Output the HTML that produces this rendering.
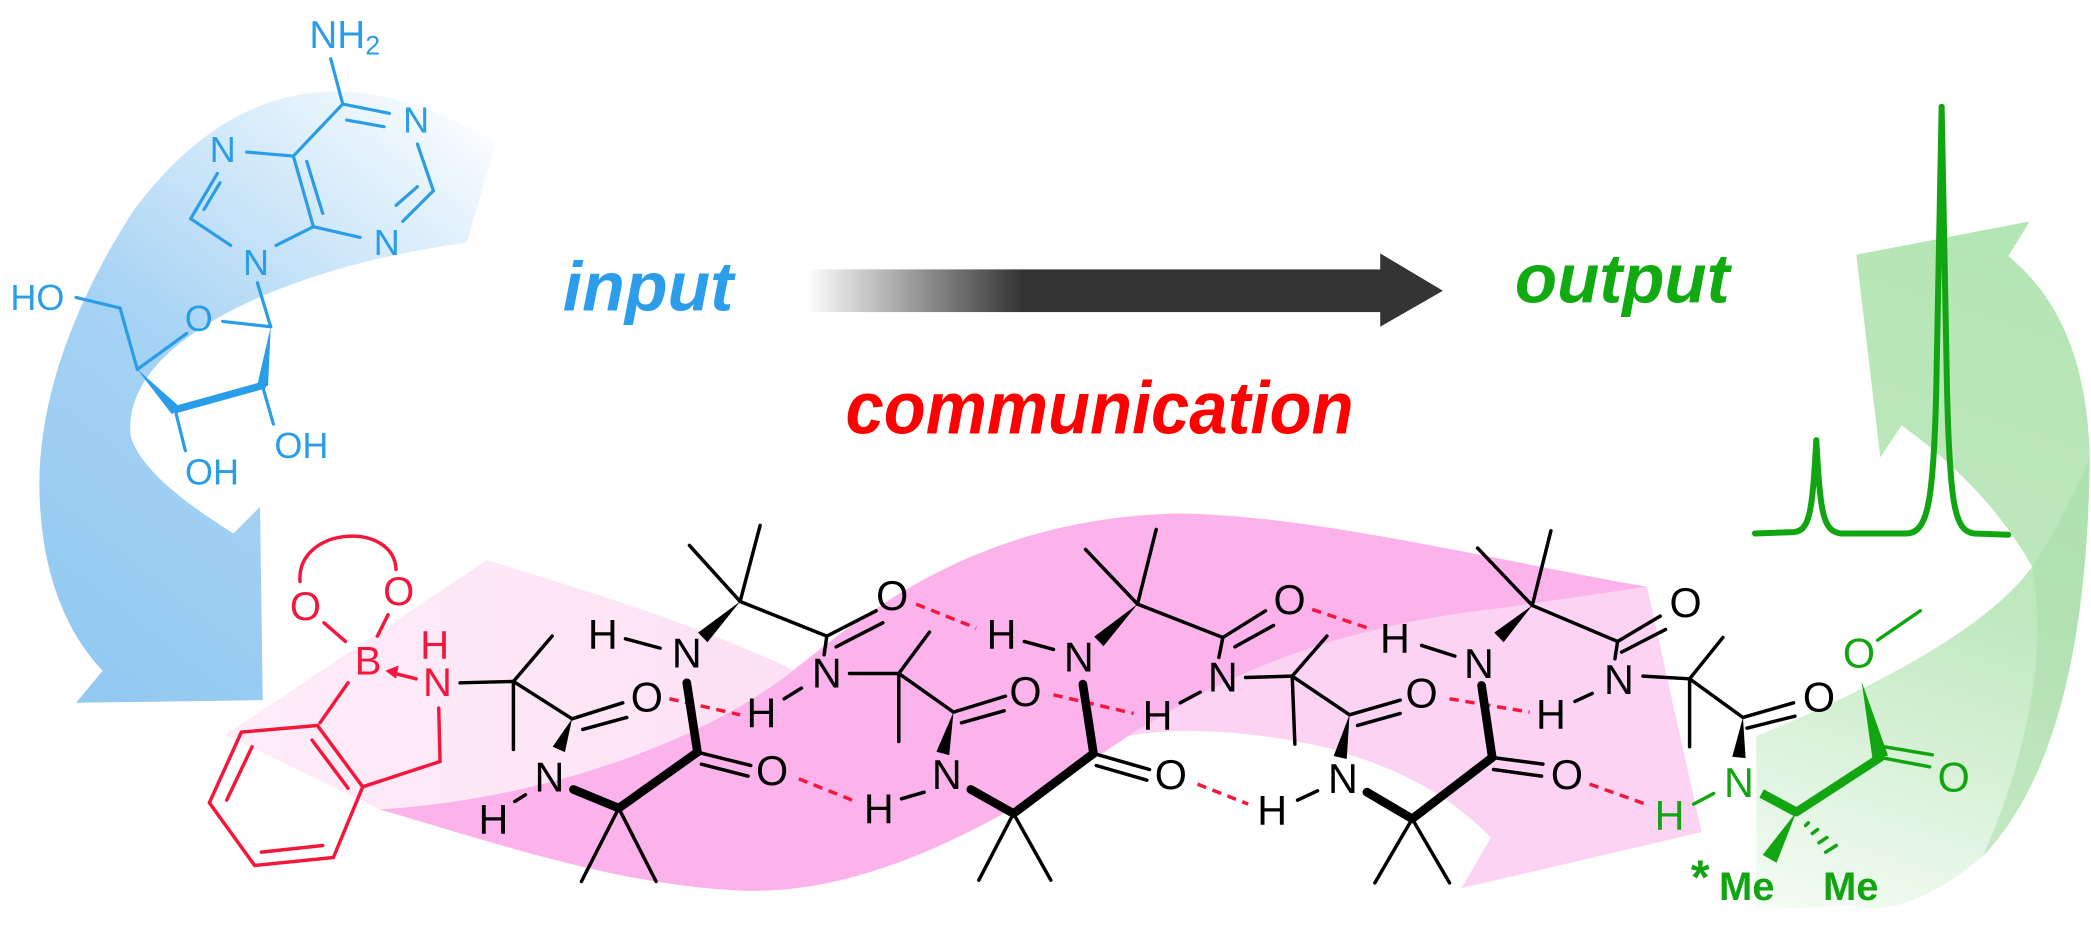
<!DOCTYPE html>
<html><head><meta charset="utf-8"><style>
html,body{margin:0;padding:0;background:#fff;}
svg{display:block;}
text{font-family:"Liberation Sans",sans-serif;}
.b{stroke:#000;stroke-width:2.6;fill:none;stroke-linecap:round;}
.bb{stroke:#000;stroke-width:6.5;fill:none;stroke-linecap:round;}
.bl{stroke:#2a9de8;stroke-width:2.4;fill:none;stroke-linecap:round;}
.rd{stroke:#f5163c;stroke-width:2.6;fill:none;stroke-linecap:round;}
.gr{stroke:#12a512;stroke-width:2.6;fill:none;stroke-linecap:round;}
.hb{stroke:#f5163c;stroke-width:2.6;fill:none;stroke-dasharray:7 5;}
.at{font-size:31px;text-anchor:middle;dominant-baseline:central;fill:#000;}
.ab{font-size:27px;text-anchor:middle;dominant-baseline:central;fill:#2a9de8;}
.ar{font-size:30px;text-anchor:middle;dominant-baseline:central;fill:#f5163c;}
.ag{font-size:31px;text-anchor:middle;dominant-baseline:central;fill:#12a512;}
</style></head><body>
<svg width="2091" height="943" viewBox="0 0 1568 707.1" xmlns="http://www.w3.org/2000/svg">
<defs>
<linearGradient id="blueg" x1="60" y1="500" x2="380" y2="90" gradientUnits="userSpaceOnUse">
<stop offset="0" stop-color="#93c9f1"/><stop offset="0.45" stop-color="#a7d3f4"/><stop offset="0.75" stop-color="#d6ebfa"/><stop offset="1" stop-color="#ffffff"/>
</linearGradient>
<linearGradient id="greeng" x1="1510" y1="180" x2="1340" y2="690" gradientUnits="userSpaceOnUse">
<stop offset="0" stop-color="#b4e5b4"/><stop offset="0.5" stop-color="#bfe8bf"/><stop offset="1" stop-color="#f6fcf6"/>
</linearGradient>
<linearGradient id="barg" x1="605" y1="0" x2="1040" y2="0" gradientUnits="userSpaceOnUse">
<stop offset="0" stop-color="#ffffff"/><stop offset="0.37" stop-color="#343434"/><stop offset="1" stop-color="#343434"/>
</linearGradient>
<linearGradient id="pinkl" x1="169" y1="0" x2="600" y2="0" gradientUnits="userSpaceOnUse">
<stop offset="0" stop-color="#fdeef9"/><stop offset="1" stop-color="#fde0f5"/>
</linearGradient>
</defs>

<path d="M100,158 C60,220 25,300 30,378 C33,440 55,480 77,503 L57,527 L197,525 L195,380 L175,400 C140,378 105,352 98,327 C95,300 110,265 177,231 C230,205 290,190 350,182 L372,107 Q210,10 100,158 Z" fill="url(#blueg)"/>

<path d="M1392,191 L1522,166 L1506,192 Q1565,240 1567,343 Q1565,560 1487,642 Q1430,690 1387,679 L1317,682 L1317,552 Q1480,485 1524,425 Q1490,365 1426,319 L1410,343 Z" fill="url(#greeng)"/>
<path d="M1567,343 Q1565,560 1487,642 Q1540,520 1524,425 Q1550,385 1567,343 Z" fill="#a6dca6" opacity="0.5"/>

<path d="M169,551 L365,420 C430,440 530,470 600,505 C520,560 420,600 285,607 Z" fill="url(#pinkl)"/>
<path d="M285,607 C400,600 520,560 592,505 C660,450 740,390 880,385 C980,385 1120,420 1235,440 L1125,458 C1030,472 920,505 846,552 C760,610 660,670 560,668 C470,665 380,635 285,607 Z" fill="#fcb3ec"/>
<path d="M846,552 C920,505 1000,470 1125,456 L1235,440 L1276,624 L1096,666 L1118,628 C1090,600 1060,580 1000,562 C940,547 880,545 846,552 Z" fill="#fdd3f3"/>

<rect x="605" y="202" width="432" height="32" fill="url(#barg)"/>
<polygon points="1035,190 1082,218 1035,245" fill="#343434"/>

<text x="422" y="233" font-size="52" font-weight="bold" font-style="italic" fill="#2c9deb" textLength="128" lengthAdjust="spacingAndGlyphs">input</text>
<text x="1136" y="227" font-size="52" font-weight="bold" font-style="italic" fill="#11aa11" textLength="161" lengthAdjust="spacingAndGlyphs">output</text>
<text x="634" y="325" font-size="56" font-weight="bold" font-style="italic" fill="#ff0000" textLength="381" lengthAdjust="spacingAndGlyphs">communication</text>

<g>
<line class="bl" x1="248" y1="44" x2="257" y2="78"/>
<line class="bl" x1="257" y1="78" x2="292" y2="85"/>
<line class="bl" x1="260" y1="90" x2="288" y2="95"/>
<line class="bl" x1="313" y1="108" x2="325" y2="143"/>
<line class="bl" x1="325" y1="143" x2="302" y2="166"/>
<line class="bl" x1="313" y1="140" x2="297" y2="154"/>
<line class="bl" x1="270" y1="178" x2="235" y2="170"/>
<line class="bl" x1="235" y1="170" x2="220" y2="117"/>
<line class="bl" x1="242" y1="160" x2="230" y2="121"/>
<line class="bl" x1="220" y1="117" x2="257" y2="78"/>
<line class="bl" x1="220" y1="117" x2="185" y2="114"/>
<line class="bl" x1="163" y1="130" x2="143" y2="164"/>
<line class="bl" x1="165" y1="137" x2="153" y2="157"/>
<line class="bl" x1="143" y1="164" x2="173" y2="184"/>
<line class="bl" x1="207" y1="184" x2="235" y2="170"/>
<line class="bl" x1="193" y1="212" x2="203" y2="245"/>
<line class="bl" x1="203" y1="245" x2="167" y2="241"/>
<line class="bl" x1="140" y1="250" x2="103" y2="277"/>
<line class="bl" x1="103" y1="277" x2="90" y2="231"/>
<line class="bl" x1="90" y1="231" x2="57" y2="223"/>
<polygon points="103,277 129,310.7 135,305.3" fill="#2a9de8"/>
<line x1="132" y1="307" x2="197" y2="289" stroke="#2a9de8" stroke-width="5.5" stroke-linecap="round"/>
<polygon points="203,245 193,288.5 201,289.5" fill="#2a9de8"/>
<line class="bl" x1="132" y1="310" x2="139" y2="338"/>
<line class="bl" x1="197" y1="290" x2="205" y2="318"/>
<text x="232" y="36" font-size="29" fill="#2a9de8">NH<tspan font-size="20" dy="5">2</tspan></text>
<text class="ab" x="312" y="90">N</text>
<text class="ab" x="290" y="182">N</text>
<text class="ab" x="167" y="112">N</text>
<text class="ab" x="192" y="197">N</text>
<text class="ab" x="149" y="239">O</text>
<text class="ab" x="28" y="223">HO</text>
<text class="ab" x="159" y="354">OH</text>
<text class="ab" x="226" y="334">OH</text>
</g>

<g>
<path class="rd" d="M225,436 C222,395 295,390 297,427"/>
<line class="rd" x1="243" y1="467" x2="259" y2="481"/>
<line class="rd" x1="291" y1="461" x2="283" y2="477"/>
<line class="rd" x1="261" y1="512" x2="240" y2="542"/>
<polygon class="rd" points="238,544 181,549 157,602 191,649 250,643 272,590"/>
<line class="rd" x1="189" y1="560" x2="170" y2="600"/>
<line class="rd" x1="196" y1="639" x2="242" y2="634"/>
<line class="rd" x1="234" y1="555" x2="261" y2="591"/>
<line class="rd" x1="272" y1="590" x2="330" y2="571"/>
<line class="rd" x1="330" y1="571" x2="329" y2="531"/>
<line class="rd" x1="312" y1="509" x2="296" y2="505"/>
<polygon points="289,503 299,499 297,509" fill="#f5163c"/>
<text class="ar" x="229" y="455">O</text>
<text class="ar" x="299" y="444">O</text>
<text class="ar" x="276" y="496" font-size="32">B</text>
<text class="ar" x="326" y="484">H</text>
<text class="ar" x="328" y="512">N</text>
</g>

<line class="hb" x1="502" y1="524" x2="555" y2="536"/>
<line class="hb" x1="599" y1="584" x2="639" y2="600"/>
<line class="hb" x1="687" y1="453" x2="732" y2="471"/>
<line class="hb" x1="790" y1="521" x2="850" y2="535"/>
<line class="hb" x1="898" y1="588" x2="936" y2="603"/>
<line class="hb" x1="984" y1="457" x2="1029" y2="472"/>
<line class="hb" x1="1087" y1="524" x2="1147" y2="534"/>
<line class="hb" x1="1192" y1="588" x2="1234" y2="603"/>

<g>
<line class="b" x1="345" y1="512" x2="385" y2="511"/>
<line class="b" x1="385" y1="511" x2="414" y2="477"/>
<line class="b" x1="385" y1="511" x2="385" y2="562"/>
<line class="b" x1="385" y1="511" x2="429" y2="539"/>
<line class="b" x1="429" y1="539" x2="467" y2="527"/>
<line class="b" x1="437" y1="547" x2="470" y2="538"/>
<polygon points="429,539 414.4,560 423.6,564"/>
<line class="b" x1="386" y1="601" x2="394" y2="596"/>
<line class="bb" x1="430" y1="592" x2="464" y2="606"/>
<line class="bb" x1="464" y1="606" x2="523" y2="564"/>
<line class="bb" x1="523" y1="564" x2="515" y2="512"/>
<line class="b" x1="464" y1="606" x2="436" y2="661"/>
<line class="b" x1="464" y1="606" x2="492" y2="661"/>
<line class="b" x1="523" y1="564" x2="563" y2="574"/>
<line class="b" x1="526" y1="573" x2="561" y2="582"/>
<text class="at" x="485" y="523">O</text>
<text class="at" x="412" y="583">N</text>
<text class="at" x="370" y="615">H</text>
<text class="at" x="579" y="578">O</text>
<line class="b" x1="469" y1="479" x2="495" y2="486"/>
<polygon points="555,451 523.5,474.4 530.5,481.6"/>
<line class="b" x1="555" y1="451" x2="517" y2="409"/>
<line class="b" x1="555" y1="451" x2="570" y2="394"/>
<line class="b" x1="555" y1="451" x2="620" y2="477"/>
<line class="b" x1="620" y1="477" x2="657" y2="458"/>
<line class="b" x1="627" y1="485" x2="662" y2="467"/>
<line class="b" x1="620" y1="477" x2="618" y2="491"/>
<line class="b" x1="601" y1="516" x2="588" y2="524"/>
<text class="at" x="452" y="476">H</text>
<text class="at" x="515" y="490">N</text>
<text class="at" x="669" y="447">O</text>
<text class="at" x="620" y="505">N</text>
<text class="at" x="571" y="535">H</text>
<line class="b" x1="637" y1="505" x2="674" y2="505"/>
<line class="b" x1="674" y1="505" x2="697" y2="474"/>
<line class="b" x1="674" y1="505" x2="674" y2="556"/>
<line class="b" x1="674" y1="505" x2="715" y2="534"/>
<line class="b" x1="715" y1="534" x2="754" y2="522"/>
<line class="b" x1="721" y1="542" x2="753" y2="533"/>
<polygon points="715,534 702.2,563.75 711.8,566.25"/>
<line class="b" x1="693" y1="594" x2="676" y2="599"/>
<text class="at" x="769" y="519">O</text>
<text class="at" x="710" y="581">N</text>
<text class="at" x="659" y="607">H</text>
<line class="bb" x1="728" y1="592" x2="760" y2="610"/>
<line class="bb" x1="760" y1="610" x2="820" y2="565"/>
<line class="bb" x1="820" y1="565" x2="812" y2="513"/>
<line class="b" x1="760" y1="610" x2="734" y2="660"/>
<line class="b" x1="760" y1="610" x2="788" y2="660"/>
<line class="b" x1="820" y1="565" x2="862" y2="577"/>
<line class="b" x1="822" y1="574" x2="860" y2="585"/>
<line class="b" x1="768" y1="481" x2="790" y2="487"/>
<text class="at" x="878" y="581">O</text>
<text class="at" x="809" y="493">N</text>
<text class="at" x="751" y="476">H</text>
<polygon points="853,453 820.5,477.4 827.5,484.6"/>
<line class="b" x1="853" y1="453" x2="814" y2="412"/>
<line class="b" x1="853" y1="453" x2="867" y2="397"/>
<line class="b" x1="853" y1="453" x2="917" y2="478"/>
<line class="b" x1="917" y1="478" x2="949" y2="458"/>
<line class="b" x1="926" y1="485" x2="955" y2="469"/>
<line class="b" x1="917" y1="478" x2="914" y2="493"/>
<line class="b" x1="900" y1="519" x2="885" y2="527"/>
<text class="at" x="967" y="450">O</text>
<text class="at" x="917" y="508">N</text>
<text class="at" x="868" y="537">H</text>
<line class="b" x1="934" y1="508" x2="969" y2="507"/>
<line class="b" x1="969" y1="507" x2="995" y2="477"/>
<line class="b" x1="969" y1="507" x2="971" y2="558"/>
<line class="b" x1="969" y1="507" x2="1012" y2="536"/>
<line class="b" x1="1012" y1="536" x2="1050" y2="525"/>
<line class="b" x1="1018" y1="544" x2="1050" y2="535"/>
<polygon points="1012,536 1000.1,566.9 1009.9,569.1"/>
<line class="b" x1="988" y1="593" x2="973" y2="600"/>
<text class="at" x="1066" y="520">O</text>
<text class="at" x="1007" y="584">N</text>
<text class="at" x="954" y="608">H</text>
<line class="bb" x1="1025" y1="594" x2="1059" y2="614"/>
<line class="bb" x1="1059" y1="614" x2="1119" y2="568"/>
<line class="bb" x1="1119" y1="568" x2="1111" y2="514"/>
<line class="b" x1="1059" y1="614" x2="1031" y2="662"/>
<line class="b" x1="1059" y1="614" x2="1087" y2="662"/>
<line class="b" x1="1119" y1="568" x2="1157" y2="573"/>
<line class="b" x1="1120" y1="577" x2="1156" y2="582"/>
<line class="b" x1="1066" y1="484" x2="1091" y2="492"/>
<text class="at" x="1175" y="581">O</text>
<text class="at" x="1109" y="498">N</text>
<text class="at" x="1046" y="479">H</text>
<polygon points="1149,454 1120.5,474.4 1127.5,481.6"/>
<line class="b" x1="1149" y1="454" x2="1108" y2="411"/>
<line class="b" x1="1149" y1="454" x2="1163" y2="398"/>
<line class="b" x1="1149" y1="454" x2="1213" y2="481"/>
<line class="b" x1="1213" y1="481" x2="1245" y2="462"/>
<line class="b" x1="1216" y1="489" x2="1249" y2="472"/>
<line class="b" x1="1213" y1="481" x2="1211" y2="494"/>
<line class="b" x1="1194" y1="520" x2="1181" y2="526"/>
<text class="at" x="1264" y="452">O</text>
<text class="at" x="1214" y="510">N</text>
<text class="at" x="1163" y="536">H</text>
<line class="b" x1="1232" y1="507" x2="1267" y2="509"/>
<line class="b" x1="1267" y1="509" x2="1292" y2="478"/>
<line class="b" x1="1267" y1="509" x2="1267" y2="560"/>
<line class="b" x1="1267" y1="509" x2="1307" y2="538"/>
<line class="b" x1="1307" y1="538" x2="1345" y2="527"/>
<line class="b" x1="1310" y1="546" x2="1346" y2="537"/>
<polygon points="1307,538 1299,567.5 1309,568.5"/>
<text class="at" x="1364" y="523">O</text>
</g>

<g>
<path d="M1316,400 L1345,399 C1357,398 1359,385 1362,330 C1365,385 1367,398 1380,400 L1430,400 C1445,399 1450,380 1452,290 L1456,80 L1460,290 C1462,380 1466,398 1480,400 L1506,401" fill="none" stroke="#12a512" stroke-width="4.5" stroke-linecap="round" stroke-linejoin="round"/>
<line class="gr" x1="1270" y1="603" x2="1285" y2="595"/>
<line x1="1321" y1="595" x2="1347" y2="609" stroke="#12a512" stroke-width="7"/>
<line x1="1347" y1="609" x2="1410" y2="568" stroke="#12a512" stroke-width="6.5" stroke-linecap="round"/>
<line class="gr" x1="1410" y1="568" x2="1447" y2="575"/>
<line class="gr" x1="1413" y1="560" x2="1449" y2="566"/>
<polygon points="1396,511 1404.2,569.4 1415.8,566.6" fill="#12a512"/>
<line class="gr" x1="1408" y1="480" x2="1440" y2="458"/>
<polygon points="1347,609 1321.8,641 1332.2,647" fill="#12a512"/>
<line class="gr" x1="1354" y1="619" x2="1356" y2="617"/>
<line class="gr" x1="1359" y1="625" x2="1363" y2="622"/>
<line class="gr" x1="1364" y1="632" x2="1370" y2="628"/>
<line class="gr" x1="1369" y1="639" x2="1377" y2="634"/>
<text class="ag" x="1304" y="587">N</text>
<text class="ag" x="1252" y="612">H</text>
<text class="ag" x="1465" y="583">O</text>
<text class="ag" x="1394" y="490">O</text>
<text x="1268" y="670" font-size="36" font-weight="bold" fill="#12a512">*</text>
<text x="1289" y="675" font-size="30" font-weight="bold" fill="#12a512">Me</text>
<text x="1367" y="675" font-size="30" font-weight="bold" fill="#12a512">Me</text>
</g>
</svg>
</body></html>
